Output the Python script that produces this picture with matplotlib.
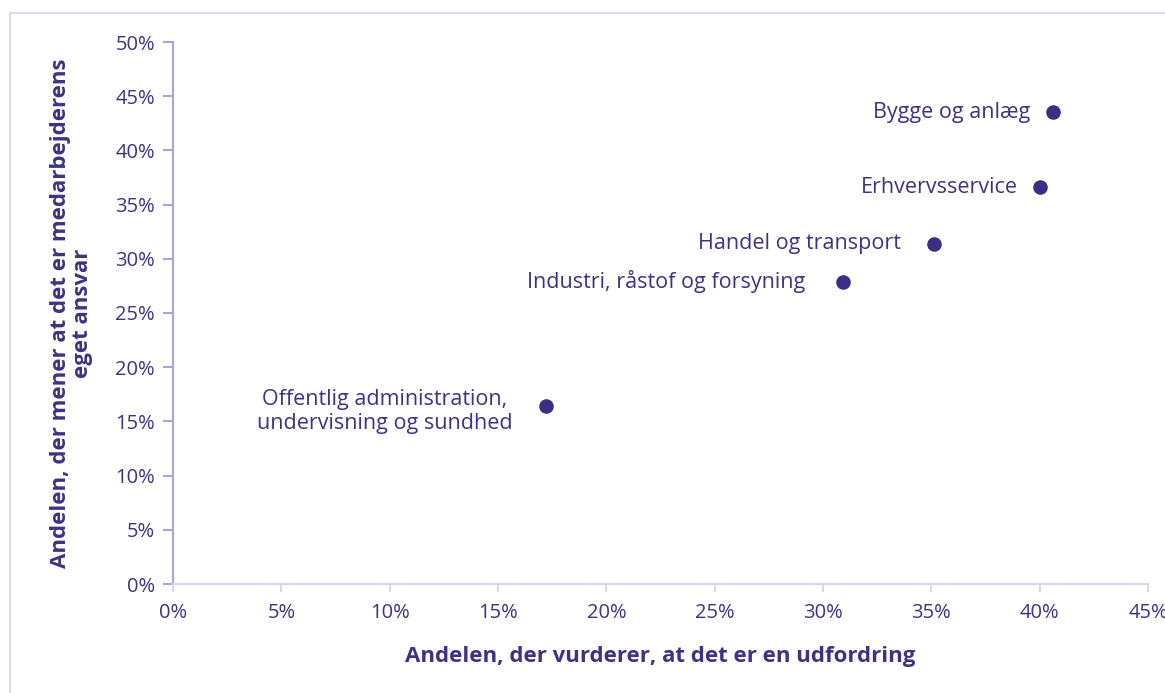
import matplotlib.pyplot as plt
from matplotlib.patches import Rectangle
from matplotlib.ticker import PercentFormatter

# data
sectors = [
    "Bygge og anlæg",
    "Erhvervsservice",
    "Handel og transport",
    "Industri, råstof og forsyning",
    "Offentlig administration,\nundervisning og sundhed",
]
challenge = [40.6, 40.0, 35.1, 30.9, 17.2]   # x: share who see it as a challenge
own_resp = [43.5, 36.6, 31.4, 27.9, 16.4]    # y: share who say it's the employee's own responsibility

# label placement (offset in points, alignment)
label_style = [
    ((-16, 0), "right"),
    ((-16, 0), "right"),
    ((-23.5, 0), "right"),
    ((-26.5, 0), "right"),
    ((-116, -4), "center"),
]

TEXT = "#3b3484"
DOT = "#3a2f82"
YAXIS = "#aaa3dc"
XAXIS = "#d9d6ef"

plt.rcParams["font.family"] = ["Open Sans", "DejaVu Sans"]

fig = plt.figure(figsize=(11.65, 6.93), dpi=100)
fig.patches.append(Rectangle((10 / 1165, -0.05), 1.2, 1 - 13 / 693 + 0.05,
                             transform=fig.transFigure, fill=False,
                             edgecolor="#dcdaf0", linewidth=1.5))

ax = fig.add_axes([173 / 1165, 1 - 584 / 693, (1148 - 173) / 1165, (584 - 42) / 693])

ax.scatter(challenge, own_resp, s=110, color=DOT, zorder=3, linewidths=0)
for name, x, y, (off, ha) in zip(sectors, challenge, own_resp, label_style):
    ax.annotate(name, (x, y), xytext=off, textcoords="offset points",
                ha=ha, va="center", fontsize=15.5, color=TEXT,
                linespacing=1.2)

ax.set_xlim(0, 45)
ax.set_ylim(0, 50)
ax.set_xticks(range(0, 46, 5))
ax.set_yticks(range(0, 51, 5))
ax.xaxis.set_major_formatter(PercentFormatter(decimals=0))
ax.yaxis.set_major_formatter(PercentFormatter(decimals=0))

for side in ("top", "right"):
    ax.spines[side].set_visible(False)
ax.spines["left"].set_color(YAXIS)
ax.spines["left"].set_linewidth(1.5)
ax.spines["bottom"].set_color(XAXIS)
ax.spines["bottom"].set_linewidth(1.5)

ax.tick_params(axis="y", colors=YAXIS, labelcolor=TEXT, labelsize=14.5, length=7, width=1.5, pad=6)
ax.tick_params(axis="x", colors=XAXIS, labelcolor=TEXT, labelsize=14.5, length=6, width=1.5, pad=8)
for lab in ax.get_xticklabels():
    lab.set_clip_on(False)

ax.set_xlabel("Andelen, der vurderer, at det er en udfordring", fontsize=16,
              fontweight="bold", color=TEXT, labelpad=16)
ax.set_ylabel("Andelen, der mener at det er medarbejderens\neget ansvar", fontsize=16,
              fontweight="bold", color=TEXT, labelpad=16, linespacing=1.05)

fig.savefig("out.png", dpi=100)
